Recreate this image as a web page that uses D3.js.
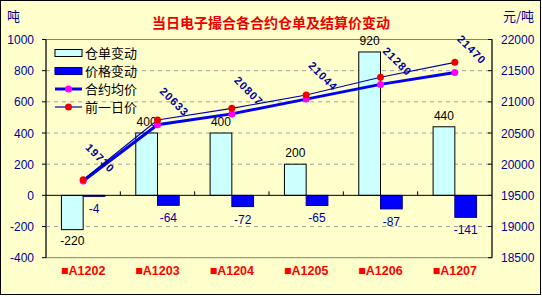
<!DOCTYPE html>
<html>
<head>
<meta charset="utf-8">
<script src="https://cdn.jsdelivr.net/npm/d3@7/dist/d3.min.js"></script>
<style>
  body { margin: 0; background: #fff; }
  svg text { font-family: 'Liberation Sans', 'Noto Sans CJK SC', sans-serif; }
  .cn { font-family: 'Noto Sans CJK SC', sans-serif; }
</style>
</head>
<body>
<div id="chart"></div>
<script>
const categories = ['■A1202', '■A1203', '■A1204', '■A1205', '■A1206', '■A1207']
const receiptChange = [-220, 400, 400, 200, 920, 440]
const priceChange = [-4, -64, -72, -65, -87, -141]
const avgPrice = [19730, 20633, 20807, 21044, 21280, 21470]
const prevPrice = [19750, 20709, 20896, 21110, 21394, 21634]
const leftTicks = [-400, -200, 0, 200, 400, 600, 800, 1000]
const rightTicks = [18500, 19000, 19500, 20000, 20500, 21000, 21500, 22000]
const legendNames = ['仓单变动', '价格变动', '合约均价', '前一日价']

const width = 542, height = 297
const plotLeft = 46, plotRight = 492, plotTop = 39.5, plotBottom = 257.7
const navy = '#000099'

const svg = d3.select('#chart').append('svg')
  .attr('width', width).attr('height', height)

svg.append('rect')
  .attr('x', 0.5).attr('y', 0.5).attr('width', 540).attr('height', 294)
  .attr('fill', '#ffffcc').attr('stroke', '#000')

const x = d3.scaleBand().domain(categories).range([plotLeft, plotRight])
const xBar = d3.scaleBand().domain(['r', 'p']).range([0, x.bandwidth()]).paddingOuter(0.71)
const yL = d3.scaleLinear().domain([-400, 1000]).range([plotBottom, plotTop])
const yR = d3.scaleLinear().domain([18500, 22000]).range([plotBottom, plotTop])

// plot frame
svg.append('rect')
  .attr('x', plotLeft).attr('y', plotTop).attr('width', plotRight - plotLeft).attr('height', plotBottom - plotTop)
  .attr('fill', '#ffffcc').attr('stroke', '#808080')

// grid
svg.append('g').selectAll('line')
  .data(leftTicks.filter(d => d !== 0 && d !== -400 && d !== 1000))
  .enter()
  .append('line')
  .attr('x1', plotLeft).attr('x2', plotRight)
  .attr('y1', d => yL(d)).attr('y2', d => yL(d))
  .attr('stroke', '#a0a0a0').attr('stroke-dasharray', '4,4')

// left axis
svg.append('line').attr('x1', plotLeft).attr('x2', plotLeft).attr('y1', plotTop).attr('y2', plotBottom).attr('stroke', '#000')
svg.append('g').selectAll('line')
  .data(leftTicks).enter().append('line')
  .attr('x1', plotLeft - 4).attr('x2', plotLeft)
  .attr('y1', d => yL(d)).attr('y2', d => yL(d)).attr('stroke', '#000')
svg.append('g').selectAll('text')
  .data(leftTicks).enter().append('text')
  .attr('x', 34).attr('y', d => yL(d) + 4.5)
  .attr('text-anchor', 'end').attr('font-size', 12).attr('fill', navy)
  .text(d => d)

// right axis
svg.append('line').attr('x1', plotRight).attr('x2', plotRight).attr('y1', plotTop).attr('y2', plotBottom).attr('stroke', '#000')
svg.append('g').selectAll('line')
  .data(rightTicks).enter().append('line')
  .attr('x1', plotRight - 4).attr('x2', plotRight)
  .attr('y1', d => yR(d)).attr('y2', d => yR(d)).attr('stroke', '#000')
svg.append('g').selectAll('text')
  .data(rightTicks).enter().append('text')
  .attr('x', 501).attr('y', d => yR(d) + 4.5)
  .attr('font-size', 12).attr('fill', navy)
  .text(d => d)

// bars
const barG = svg.append('g')
barG.selectAll('rect.r')
  .data(receiptChange).enter().append('rect')
  .attr('class', 'r')
  .attr('x', (d, i) => x(categories[i]) + xBar('r'))
  .attr('width', xBar.bandwidth())
  .attr('y', d => Math.min(yL(d), yL(0)))
  .attr('height', d => Math.abs(yL(d) - yL(0)))
  .attr('fill', '#ccffff').attr('stroke', '#000')
barG.selectAll('rect.p')
  .data(priceChange).enter().append('rect')
  .attr('class', 'p')
  .attr('x', (d, i) => x(categories[i]) + xBar('p'))
  .attr('width', xBar.bandwidth())
  .attr('y', d => Math.min(yL(d), yL(0)))
  .attr('height', d => Math.max(Math.abs(yL(d) - yL(0)), 1))
  .attr('fill', '#0000ff').attr('stroke', '#000080')

// category axis at 0
svg.append('line').attr('x1', plotLeft).attr('x2', plotRight).attr('y1', yL(0)).attr('y2', yL(0)).attr('stroke', '#000')
svg.append('g').selectAll('line')
  .data(d3.range(1, categories.length)).enter().append('line')
  .attr('x1', d => plotLeft + d * x.step()).attr('x2', d => plotLeft + d * x.step())
  .attr('y1', yL(0) - 4).attr('y2', yL(0)).attr('stroke', '#000')

// bar labels
svg.append('g').selectAll('text')
  .data(receiptChange).enter().append('text')
  .attr('x', (d, i) => x(categories[i]) + xBar('r') + xBar.bandwidth() / 2)
  .attr('y', d => d >= 0 ? yL(d) - 7 : yL(d) + 15)
  .attr('text-anchor', 'middle').attr('font-size', 12).attr('fill', '#000')
  .text(d => d)
svg.append('g').selectAll('text')
  .data(priceChange).enter().append('text')
  .attr('x', (d, i) => x(categories[i]) + xBar('p') + xBar.bandwidth() / 2)
  .attr('y', d => yL(d) + 17)
  .attr('text-anchor', 'middle').attr('font-size', 12).attr('fill', navy)
  .text(d => d)

// lines
const cx = (d, i) => x(categories[i]) + x.bandwidth() / 2
const priceLine = d3.line().x(cx).y(d => yR(d))

svg.append('path')
  .attr('d', priceLine(avgPrice))
  .attr('fill', 'none').attr('stroke', '#0000ee').attr('stroke-width', 3)
svg.append('path')
  .attr('d', priceLine(prevPrice))
  .attr('fill', 'none').attr('stroke', '#0000aa').attr('stroke-width', 1.2)

svg.append('g').selectAll('circle')
  .data(avgPrice).enter().append('circle')
  .attr('cx', cx).attr('cy', d => yR(d)).attr('r', 3.5).attr('fill', '#ff00ff')
svg.append('g').selectAll('circle')
  .data(prevPrice).enter().append('circle')
  .attr('cx', cx).attr('cy', d => yR(d)).attr('r', 3.5).attr('fill', '#ee0000')

// rotated price labels
svg.append('g').selectAll('text')
  .data(avgPrice).enter().append('text')
  .attr('transform', (d, i) => `translate(${cx(d, i) + 17},${yR(d) - 23}) rotate(45)`)
  .attr('text-anchor', 'middle').attr('dy', 4)
  .attr('font-size', 11).attr('font-weight', 'bold').attr('letter-spacing', 1)
  .attr('fill', navy)
  .text(d => d)

// category labels
svg.append('g').selectAll('text')
  .data(categories).enter().append('text')
  .attr('x', d => x(d) + x.bandwidth() / 2).attr('y', 275)
  .attr('text-anchor', 'middle').attr('font-size', 12.5).attr('font-weight', 'bold')
  .attr('fill', '#ff0000')
  .text(d => d)

// legend
const legend = svg.append('g').attr('transform', 'translate(55, 53)')
const rowH = 18
legend.append('rect').attr('x', 0).attr('y', -3.5).attr('width', 27).attr('height', 7)
  .attr('fill', '#ccffff').attr('stroke', '#000')
legend.append('rect').attr('x', 0).attr('y', rowH - 3.5).attr('width', 27).attr('height', 7)
  .attr('fill', '#0000ff').attr('stroke', '#000080')
legend.append('line').attr('x1', 0).attr('x2', 27).attr('y1', rowH * 2).attr('y2', rowH * 2)
  .attr('stroke', '#0000ee').attr('stroke-width', 3)
legend.append('circle').attr('cx', 13.5).attr('cy', rowH * 2).attr('r', 3.5).attr('fill', '#ff00ff')
legend.append('line').attr('x1', 0).attr('x2', 27).attr('y1', rowH * 3).attr('y2', rowH * 3)
  .attr('stroke', '#0000aa').attr('stroke-width', 1.2)
legend.append('circle').attr('cx', 13.5).attr('cy', rowH * 3).attr('r', 3.5).attr('fill', '#ee0000')
legend.selectAll('text')
  .data(legendNames).enter().append('text')
  .attr('class', 'cn')
  .attr('x', 30).attr('y', (d, i) => i * rowH + 4.5)
  .attr('font-size', 13).attr('fill', '#000')
  .text(d => d)

// title and unit labels
svg.append('text').attr('class', 'cn')
  .attr('x', 271).attr('y', 28).attr('text-anchor', 'middle')
  .attr('font-size', 14).attr('font-weight', 'bold').attr('fill', '#ee0000')
  .text('当日电子撮合各合约仓单及结算价变动')
svg.append('text').attr('class', 'cn')
  .attr('x', 7).attr('y', 21).attr('font-size', 13).attr('fill', navy)
  .text('吨')
svg.append('text').attr('class', 'cn')
  .attr('x', 503).attr('y', 21).attr('font-size', 13).attr('fill', navy)
  .text('元/吨')
</script>
</body>
</html>
